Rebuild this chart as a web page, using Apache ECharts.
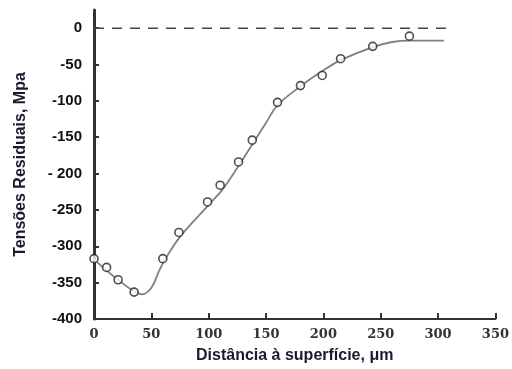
<!DOCTYPE html>
<html>
<head>
<meta charset="utf-8">
<script src="https://cdn.jsdelivr.net/npm/echarts@6/dist/echarts.min.js"></script>
<style>
  html, body { margin: 0; padding: 0; background: #fff; }
  #chart { width: 512px; height: 369px; }
</style>
</head>
<body>
<div id="chart"></div>
<script>
// measured points (circles)
var pointX = [0, 11, 21, 35, 60, 74, 99, 110, 126, 138, 160, 180, 199, 215, 243, 275];
var pointY = [-317, -329, -346, -363, -317, -281, -239, -216, -184, -154, -102, -79, -65, -42, -25, -11];

// fitted curve
var curveX = [0, 10, 20, 35, 42, 50, 57, 62, 75, 100, 112, 125, 138, 150, 160, 180, 200, 215, 243, 260, 275, 305];
var curveY = [-318, -332, -345, -362, -366, -357, -333, -318, -287, -243, -222, -192, -160, -130, -106, -80, -58, -44, -26, -19, -17, -17];

// zero reference line
var refX = [0, 307];
var refY = [0, 0];

var yTicks = [-400, -350, -300, -250, -200, -150, -100, -50, 0];

function pairs(xs, ys) {
  return xs.map(function (x, i) { return [x, ys[i]]; });
}

var chart = echarts.init(document.getElementById('chart'));

chart.setOption({
  animation: false,
  grid: { left: 94, right: 16, top: 10, bottom: 25, containLabel: false },
  xAxis: {
    type: 'value',
    min: 0,
    max: 350,
    interval: 50,
    name: 'Distância à superfície, μm',
    nameLocation: 'middle',
    nameGap: 29,
    nameTextStyle: { fontFamily: 'Liberation Sans', fontWeight: 'bold', fontSize: 16, color: '#1a1a2e' },
    axisLine: { onZero: false, lineStyle: { color: '#333', width: 2 } },
    axisTick: { inside: true, length: 6, lineStyle: { color: '#333', width: 2 } },
    axisLabel: { margin: 9, fontFamily: 'DejaVu Serif', fontWeight: 'bold', fontSize: 13, color: '#333' },
    splitLine: { show: false }
  },
  yAxis: {
    type: 'value',
    min: -400,
    max: 25,
    interval: 50,
    name: 'Tensões Residuais, Mpa',
    nameLocation: 'middle',
    nameGap: 65,
    nameRotate: 90,
    nameTextStyle: { fontFamily: 'Liberation Sans', fontWeight: 'bold', fontSize: 16, color: '#1a1a2e' },
    axisLine: { onZero: false, lineStyle: { color: '#333', width: 3 } },
    axisTick: { inside: true, length: 5, customValues: yTicks, lineStyle: { color: '#333', width: 2 } },
    axisLabel: {
      margin: 12,
      padding: [4, 0, 0, 0],
      customValues: yTicks,
      fontFamily: 'Liberation Sans',
      fontWeight: 'bold',
      fontSize: 15,
      color: '#111',
      formatter: function (v) { return v === -200 ? '- 200' : String(v); }
    },
    splitLine: { show: false }
  },
  series: [
    {
      type: 'line',
      data: pairs(refX, refY),
      symbol: 'none',
      lineStyle: { color: '#444', width: 1.5, type: [10, 8] },
      z: 1
    },
    {
      type: 'line',
      data: pairs(curveX, curveY),
      smooth: 0.4,
      symbol: 'none',
      lineStyle: { color: '#808080', width: 1.8 },
      z: 2
    },
    {
      type: 'scatter',
      data: pairs(pointX, pointY),
      symbol: 'circle',
      symbolSize: 8,
      itemStyle: { color: '#fff', borderColor: '#222', borderWidth: 1.6 },
      z: 3
    }
  ]
});
</script>
</body>
</html>
